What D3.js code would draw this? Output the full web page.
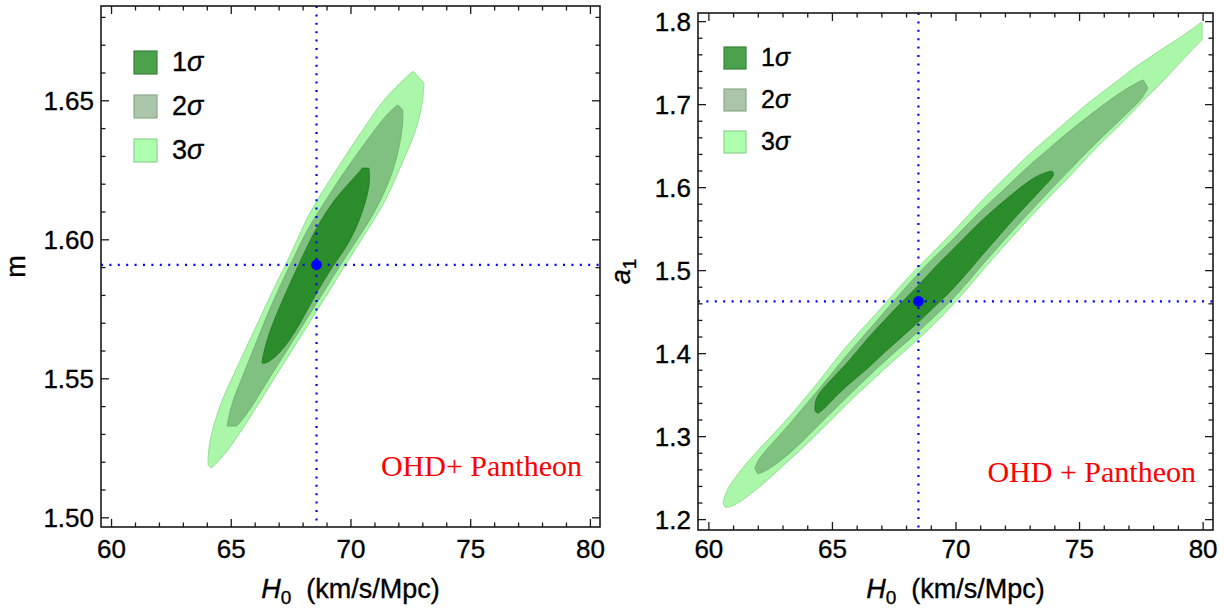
<!DOCTYPE html>
<html>
<head>
<meta charset="utf-8">
<script src="https://cdn.jsdelivr.net/npm/d3@7/dist/d3.min.js"></script>
<style>
  body { margin: 0; background: #fff; }
  svg text { font-family: "Liberation Sans", Arial, sans-serif; fill: #000; }
  svg text.ink { stroke: #000; stroke-width: 0.35; }
</style>
</head>
<body>
<div id="chart"></div>
<script>
// ---- data ----
var h0Ticks = [60, 65, 70, 75, 80];
var mTicks = [1.50, 1.55, 1.60, 1.65];
var a1Ticks = [1.2, 1.3, 1.4, 1.5, 1.6, 1.7, 1.8];
var levels = ["1", "2", "3"];          // n sigma
var bestLeft = [68.56, 1.591];
var bestRight = [68.48, 1.463];

// contour outlines [H0, m]  (corner points listed twice so the spline keeps them)
var leftSigma3 = [[64.15,1.5179],[64.15,1.5179],[64.03,1.5190],[64.03,1.5190],[64.03,1.5226],[64.11,1.5279],[64.32,1.5351],[64.61,1.5423],[64.99,1.5495],[65.57,1.5603],[66.16,1.5711],[66.74,1.5819],[67.29,1.5913],[67.75,1.5999],[68.12,1.6071],[68.58,1.6143],[69.25,1.6233],[69.92,1.6323],[70.63,1.6413],[71.34,1.6503],[72.05,1.6564],[72.59,1.6607],[72.59,1.6607],
  [73.05,1.6564],[73.05,1.6564],[73.01,1.6503],[72.80,1.6413],[72.38,1.6323],[71.92,1.6233],[71.46,1.6143],[70.96,1.6071],[70.42,1.5999],[69.79,1.5913],[69.12,1.5819],[68.33,1.5711],[67.54,1.5603],[66.74,1.5495],[66.24,1.5423],[65.70,1.5351],[65.16,1.5279],[64.70,1.5226],[64.32,1.5190]];
var leftSigma2 = [[64.82,1.5330],[64.82,1.5330],[64.91,1.5369],[65.07,1.5423],[65.41,1.5495],[65.91,1.5603],[66.41,1.5711],[66.95,1.5819],[67.49,1.5913],[67.95,1.5999],[68.41,1.6071],[68.96,1.6143],[69.62,1.6233],[70.38,1.6323],[71.13,1.6413],[71.67,1.6467],[71.96,1.6485],[71.96,1.6485],
  [72.17,1.6467],[72.17,1.6467],[72.17,1.6413],[72.00,1.6323],[71.71,1.6233],[71.25,1.6143],[70.79,1.6071],[70.25,1.5999],[69.58,1.5913],[68.91,1.5819],[68.12,1.5711],[67.33,1.5603],[66.53,1.5495],[66.03,1.5423],[65.62,1.5369],[65.24,1.5330],[65.24,1.5330]];
var leftSigma1 = [[66.28,1.5556],[66.28,1.5556],[66.33,1.5585],[66.49,1.5639],[66.78,1.5711],[67.33,1.5819],[67.83,1.5913],[68.29,1.5999],[68.75,1.6071],[69.29,1.6143],[69.92,1.6204],[70.42,1.6251],[70.46,1.6258],[70.46,1.6258],
  [70.75,1.6258],[70.75,1.6258],[70.79,1.6215],[70.71,1.6168],[70.38,1.6071],[69.83,1.5974],[69.29,1.5913],[68.62,1.5819],[67.95,1.5711],[67.45,1.5639],[66.95,1.5585],[66.49,1.5556]];

// contour outlines [H0, a1]
var rightSigma3 = [[60.57,1.220],[60.57,1.220],[60.69,1.234],[61.01,1.249],[61.66,1.273],[62.35,1.295],[63.00,1.315],[63.68,1.339],[64.37,1.363],[65.02,1.389],[65.71,1.414],[66.40,1.436],[67.04,1.457],[67.73,1.481],[68.42,1.503],[69.07,1.522],[69.76,1.543],[70.45,1.565],[71.09,1.586],[71.78,1.606],[72.47,1.626],[73.12,1.645],[73.81,1.662],[74.49,1.680],[75.14,1.697],[75.83,1.713],[76.52,1.728],[77.17,1.744],[77.85,1.757],[78.54,1.771],[79.19,1.783],[79.96,1.800],[79.96,1.800],
  [79.96,1.778],[79.96,1.778],[79.19,1.755],[78.54,1.733],[77.85,1.713],[77.17,1.692],[76.52,1.672],[75.83,1.653],[75.14,1.631],[74.49,1.610],[73.81,1.590],[73.12,1.568],[72.47,1.547],[71.78,1.524],[71.09,1.501],[70.45,1.478],[69.76,1.455],[69.07,1.434],[68.42,1.416],[67.73,1.398],[67.04,1.380],[66.40,1.362],[65.71,1.343],[65.02,1.322],[64.37,1.303],[63.68,1.283],[63.00,1.265],[62.35,1.247],[61.66,1.230],[60.97,1.215],[60.65,1.215],[60.65,1.215]];
var rightSigma2 = [[61.86,1.261],[61.86,1.261],[61.98,1.272],[62.35,1.285],[63.00,1.306],[63.68,1.330],[64.37,1.354],[65.02,1.378],[65.71,1.403],[66.40,1.426],[67.04,1.448],[67.73,1.472],[68.42,1.495],[69.07,1.515],[69.76,1.534],[70.45,1.555],[71.09,1.575],[71.78,1.593],[72.47,1.613],[73.12,1.631],[73.81,1.648],[74.49,1.666],[75.14,1.681],[75.83,1.697],[76.52,1.712],[77.17,1.724],[77.57,1.730],[77.57,1.730],
  [77.77,1.720],[77.77,1.720],[77.45,1.704],[77.17,1.697],[76.52,1.678],[75.83,1.659],[75.14,1.638],[74.49,1.618],[73.81,1.597],[73.12,1.575],[72.47,1.554],[71.78,1.531],[71.09,1.508],[70.45,1.485],[69.76,1.462],[69.07,1.443],[68.42,1.425],[67.73,1.407],[67.04,1.389],[66.40,1.371],[65.71,1.351],[65.02,1.331],[64.37,1.312],[63.68,1.291],[63.00,1.273],[62.35,1.259],[61.98,1.255],[61.98,1.255]];
var rightSigma1 = [[64.29,1.331],[64.29,1.331],[64.29,1.343],[64.49,1.354],[65.02,1.371],[65.71,1.392],[66.40,1.418],[67.04,1.438],[67.73,1.460],[68.42,1.480],[69.07,1.502],[69.76,1.522],[70.45,1.543],[71.09,1.562],[71.78,1.580],[72.47,1.597],[73.12,1.612],[73.68,1.619],[73.89,1.620],[73.89,1.620],
  [74.01,1.615],[73.60,1.603],[73.12,1.587],[72.47,1.567],[71.78,1.543],[71.09,1.520],[70.45,1.497],[69.76,1.474],[69.07,1.455],[68.42,1.436],[67.73,1.418],[67.04,1.400],[66.40,1.381],[65.71,1.365],[65.02,1.345],[64.62,1.332],[64.41,1.328],[64.41,1.328]];

// ---- styles ----
var fills = ["#2a8c2a", "#80c080", "#aaf7aa"];
var edges = ["#1f7a1f", "#6aae6a", "#86d886"];
var swatchFill = ["#4ca24c", "#abc5ab", "#aeffae"];
var swatchEdge = ["#3a803a", "#8aa88a", "#8fd08f"];

var width = 1224, height = 612;
var svg = d3.select("#chart").append("svg")
  .attr("width", width).attr("height", height)
  .style("background", "#fff");

var panels = [
  { left: 101, right: 600, top: 6, bottom: 527,
    xDomain: [59.56, 80.4], yDomain: [1.4967, 1.6841],
    yTicks: mTicks, yMinorStep: 0.01, yFmt: d3.format(".2f"),
    contours: [leftSigma3, leftSigma2, leftSigma1], best: bestLeft,
    yLabel: "m", yLabelX: 25, yLabelItalic: false,
    legend: { x: 134, y: 51, size: 23, gap: 44, font: 27 },
    note: "OHD+ Pantheon", noteX: 582, noteY: 476 },
  { left: 698, right: 1213, top: 13, bottom: 530,
    xDomain: [59.56, 80.4], yDomain: [1.1875, 1.8104],
    yTicks: a1Ticks, yMinorStep: 0.02, yFmt: d3.format(".1f"),
    contours: [rightSigma3, rightSigma2, rightSigma1], best: bestRight,
    yLabel: "a", yLabelSub: "1", yLabelX: 630, yLabelItalic: true,
    legend: { x: 724, y: 47, size: 22, gap: 42, font: 25 },
    note: "OHD + Pantheon", noteX: 1196, noteY: 482 }
];

panels.forEach(function (p) {
  var x = d3.scaleLinear().domain(p.xDomain).range([p.left, p.right]);
  var y = d3.scaleLinear().domain(p.yDomain).range([p.bottom, p.top]);
  var g = svg.append("g");

  var clipId = "clip" + p.left;
  svg.append("clipPath").attr("id", clipId).append("rect")
    .attr("x", p.left).attr("y", p.top)
    .attr("width", p.right - p.left).attr("height", p.bottom - p.top);

  var plot = g.append("g").attr("clip-path", "url(#" + clipId + ")");

  var line = d3.line()
    .x(function (d) { return x(d[0]); })
    .y(function (d) { return y(d[1]); })
    .curve(d3.curveBasisClosed);

  // 3 sigma first, 1 sigma on top
  p.contours.forEach(function (c, i) {
    var k = 2 - i;
    plot.append("path")
      .attr("d", line(c))
      .attr("fill", fills[k])
      .attr("stroke", edges[k])
      .attr("stroke-width", 0.8);
  });

  // best-fit guides
  plot.append("line")
    .attr("x1", x(p.best[0])).attr("x2", x(p.best[0]))
    .attr("y1", p.top).attr("y2", p.bottom)
    .attr("stroke", "#0000ff").attr("stroke-width", 2.2)
    .attr("stroke-dasharray", "2,6.4");
  plot.append("line")
    .attr("x1", p.left).attr("x2", p.right)
    .attr("y1", y(p.best[1])).attr("y2", y(p.best[1]))
    .attr("stroke", "#0000ff").attr("stroke-width", 2.2)
    .attr("stroke-dasharray", "2,6.4");
  plot.append("circle")
    .attr("cx", x(p.best[0])).attr("cy", y(p.best[1]))
    .attr("r", 5.3).attr("fill", "#0000ff");

  // frame
  g.append("rect")
    .attr("x", p.left).attr("y", p.top)
    .attr("width", p.right - p.left).attr("height", p.bottom - p.top)
    .attr("fill", "none").attr("stroke", "#1a1a1a").attr("stroke-width", 1.6);

  var major = 8, minor = 4.5;
  var xMinor = d3.range(60, 80.001, 1);
  xMinor.forEach(function (v) {
    var isMajor = h0Ticks.indexOf(v) >= 0;
    var len = isMajor ? major : minor;
    g.append("line").attr("x1", x(v)).attr("x2", x(v))
      .attr("y1", p.bottom).attr("y2", p.bottom - len)
      .attr("stroke", "#1a1a1a").attr("stroke-width", 1.3);
    g.append("line").attr("x1", x(v)).attr("x2", x(v))
      .attr("y1", p.top).attr("y2", p.top + len)
      .attr("stroke", "#1a1a1a").attr("stroke-width", 1.3);
  });
  var y0 = p.yTicks[0];
  var yMinor = d3.range(0, Math.round((p.yDomain[1] - y0) / p.yMinorStep) + 1)
    .map(function (i) { return y0 + i * p.yMinorStep; })
    .filter(function (v) { return v <= p.yDomain[1]; });
  yMinor.forEach(function (v) {
    var isMajor = p.yTicks.some(function (t) { return Math.abs(t - v) < 1e-6; });
    var len = isMajor ? major : minor;
    g.append("line").attr("x1", p.left).attr("x2", p.left + len)
      .attr("y1", y(v)).attr("y2", y(v))
      .attr("stroke", "#1a1a1a").attr("stroke-width", 1.3);
    g.append("line").attr("x1", p.right).attr("x2", p.right - len)
      .attr("y1", y(v)).attr("y2", y(v))
      .attr("stroke", "#1a1a1a").attr("stroke-width", 1.3);
  });

  // tick labels
  g.selectAll(".xl").data(h0Ticks).enter().append("text")
    .attr("class", "ink")
    .attr("x", function (d) { return x(d); })
    .attr("y", 558)
    .attr("text-anchor", "middle")
    .attr("font-size", 26)
    .text(function (d) { return d; });
  g.selectAll(".yl").data(p.yTicks).enter().append("text")
    .attr("class", "ink")
    .attr("x", p.left - 7)
    .attr("y", function (d) { return y(d) + 9.5; })
    .attr("text-anchor", "end")
    .attr("font-size", 26)
    .text(function (d) { return p.yFmt(d); });

  // axis titles
  var xt = g.append("text").attr("class", "ink")
    .attr("x", (p.left + p.right) / 2).attr("y", 598)
    .attr("text-anchor", "middle").attr("font-size", 27);
  xt.append("tspan").attr("font-style", "italic").text("H");
  xt.append("tspan").attr("font-size", 19).attr("dy", 6).text("0");
  xt.append("tspan").attr("dy", -6).text("\u00a0 (km/s/Mpc)");

  var cy = (p.top + p.bottom) / 2;
  var yt = g.append("text").attr("class", "ink")
    .attr("transform", "translate(" + p.yLabelX + "," + cy + ") rotate(-90)")
    .attr("text-anchor", "middle").attr("font-size", 27);
  yt.append("tspan").attr("font-style", p.yLabelItalic ? "italic" : "normal").text(p.yLabel);
  if (p.yLabelSub) {
    yt.append("tspan").attr("font-size", 19).attr("dy", 6).text(p.yLabelSub);
  }

  // legend
  var lg = g.append("g");
  levels.forEach(function (n, i) {
    var yy = p.legend.y + i * p.legend.gap;
    lg.append("rect")
      .attr("x", p.legend.x).attr("y", yy)
      .attr("width", p.legend.size).attr("height", p.legend.size)
      .attr("fill", swatchFill[i]).attr("stroke", swatchEdge[i]).attr("stroke-width", 1.2);
    var t = lg.append("text").attr("class", "ink")
      .attr("x", p.legend.x + p.legend.size + 15)
      .attr("y", yy + p.legend.size - 3)
      .attr("font-size", p.legend.font);
    t.append("tspan").text(n);
    t.append("tspan").attr("font-style", "italic").text("\u03c3");
  });

  // data set note
  g.append("text")
    .attr("x", p.noteX).attr("y", p.noteY)
    .attr("text-anchor", "end")
    .attr("font-size", 30)
    .style("font-family", "'Liberation Serif', 'Times New Roman', serif")
    .style("fill", "#ff0000")
    .text(p.note);
});
</script>
</body>
</html>
